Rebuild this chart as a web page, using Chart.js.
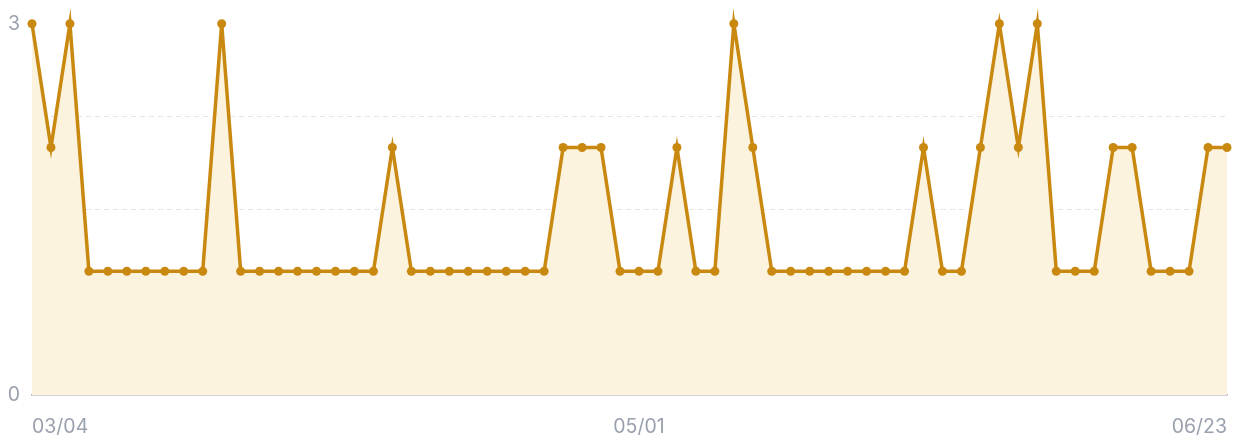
<!DOCTYPE html>
<html>
<head>
<meta charset="utf-8">
<script src="https://cdn.jsdelivr.net/npm/chart.js@4"></script>
<style>
    html, body { margin: 0; padding: 0; background: #fff; }
    #wrap { width: 1236px; height: 441px; }
</style>
</head>
<body>
<div id="wrap"><canvas id="countChart"></canvas></div>
<script>
// Dates shown on the x axis (only these three are labelled in the original)
const dateLabels = [
    '03/04', '', '', '', '', '', '', '', '', '', '', '', '', '', '', '',
    '', '', '', '', '', '', '', '', '', '', '', '', '', '', '', '',
    '05/01', '', '', '', '', '', '', '', '', '', '', '', '', '', '', '',
    '', '', '', '', '', '', '', '', '', '', '', '', '', '', '', '06/23'
];

const counts = [
    3, 2, 3, 1, 1, 1, 1, 1, 1, 1,
    3, 1, 1, 1, 1, 1, 1, 1, 1, 2,
    1, 1, 1, 1, 1, 1, 1, 1, 2, 2,
    2, 1, 1, 1, 2, 1, 1, 3, 2, 1,
    1, 1, 1, 1, 1, 1, 1, 2, 1, 1,
    2, 3, 2, 3, 1, 1, 1, 2, 2, 1,
    1, 1, 2, 2
];

const yTickLabels = [0, 3];

Chart.defaults.font.family = "Inter, 'Noto Sans', sans-serif";
Chart.defaults.color = '#9ca3af';

new Chart(document.getElementById('countChart'), {
    type: 'line',
    data: {
        labels: dateLabels,
        datasets: [{
            data: counts,
            borderColor: '#c98911',
            backgroundColor: '#fcf3de',
            borderWidth: 3.5,
            pointRadius: 4.5,
            pointBackgroundColor: '#c98911',
            pointBorderWidth: 0,
            tension: 0,
            fill: 'origin',
            clip: false
        }]
    },
    options: {
        responsive: true,
        maintainAspectRatio: false,
        animation: false,
        layout: { padding: { top: 22, right: 9, left: 0, bottom: 0 } },
        scales: {
            x: {
                offset: false,
                grid: { display: false, drawTicks: false },
                border: { color: '#a3a8b3', width: 1.5 },
                afterBuildTicks: (scale) => {
                    scale.ticks = scale.ticks.filter(t => dateLabels[t.value] !== '');
                },
                afterFit: (scale) => {
                    scale.height = 46;
                    scale.paddingLeft = 0;
                    scale.paddingRight = 0;
                },
                ticks: {
                    autoSkip: false,
                    maxRotation: 0,
                    align: 'inner',
                    padding: 20,
                    color: '#9aa1ae',
                    font: { size: 19.5 }
                }
            },
            y: {
                min: 0,
                max: 3,
                grid: {
                    drawTicks: false,
                    color: (ctx) => (ctx.tick && yTickLabels.includes(ctx.tick.value)) ? 'rgba(0,0,0,0)' : '#e3e5e9',
                    lineWidth: 1
                },
                border: { display: false, dash: [5, 4] },
                afterFit: (scale) => { scale.width = 32; },
                ticks: {
                    stepSize: 0.75,
                    padding: 12,
                    color: '#9aa1ae',
                    font: { size: 19.5 },
                    callback: (value) => yTickLabels.includes(value) ? value : ''
                }
            }
        },
        plugins: {
            legend: { display: false },
            tooltip: { enabled: false }
        }
    }
});
</script>
</body>
</html>
